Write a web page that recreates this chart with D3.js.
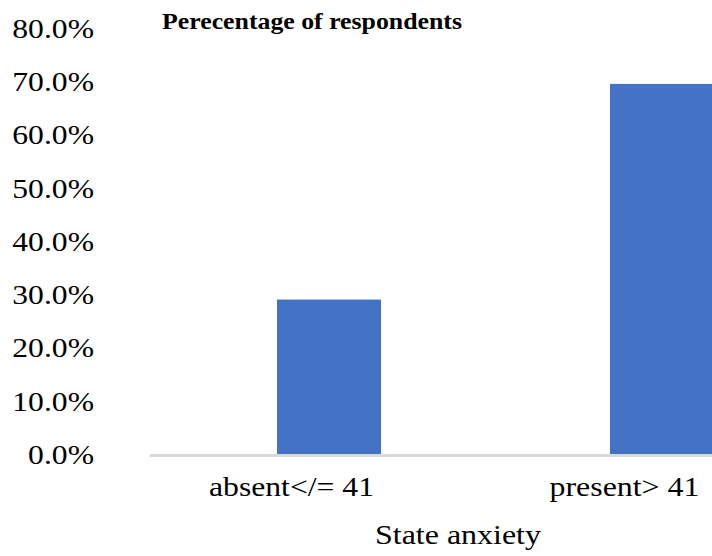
<!DOCTYPE html>
<meta charset="utf-8">
<style>
  body { margin: 0; background: #fff; }
  text { font-family: "Liberation Serif", "Times New Roman", serif; fill: #000; }
  text.title { font-weight: bold; font-size: 24px; }
  text.tick { font-size: 28px; text-anchor: end; }
  text.cat { font-size: 27px; text-anchor: middle; }
  text.axis-title { font-size: 27px; text-anchor: middle; }
</style>
<script src="https://d3js.org/d3.v7.min.js"></script>
<div id="chart"></div>
<script>
// data
var categories = ["absent</= 41", "present> 41"];
var values = [0.29, 0.695];
var yTicks = [0, 0.1, 0.2, 0.3, 0.4, 0.5, 0.6, 0.7, 0.8];

var W = 712, H = 556;

var svg = d3.select("#chart").append("svg")
    .attr("width", W)
    .attr("height", H);

var y = d3.scaleLinear()
    .domain([0, 0.8])
    .range([454, 28]);

// bands are centred on the category labels, bars sit a bit right of that
var x = d3.scaleBand()
    .domain(categories)
    .range([125, 791]);
var barW = 104, barShift = 37.5;

// text in the picture is drawn a little wide
function wideText(px, py, cls, str, sx) {
  return svg.append("g")
      .attr("transform", "translate(" + px + "," + py + ") scale(" + sx + ",1)")
    .append("text")
      .attr("class", cls)
      .text(str);
}

// y tick labels (no gridlines, no axis line)
yTicks.forEach(function(t) {
  wideText(94, y(t), "tick", d3.format(".1%")(t), 1.13)
    .attr("dy", "0.35em");
});

// bars
svg.selectAll("rect.bar")
  .data(values)
  .enter()
  .append("rect")
    .attr("class", "bar")
    .attr("x", function(d, i) { return x(categories[i]) + x.bandwidth() / 2 + barShift - barW / 2; })
    .attr("y", function(d) { return y(d); })
    .attr("width", barW)
    .attr("height", function(d) { return y(0) - y(d); })
    .style("fill", "#4472c4");

// baseline
svg.append("line")
    .attr("x1", 150)
    .attr("x2", W)
    .attr("y1", y(0) + 1.5)
    .attr("y2", y(0) + 1.5)
    .attr("stroke", "#d9d9d9")
    .attr("stroke-width", 3);

// category labels
var catWidths = [165, 150];
categories.forEach(function(c, i) {
  svg.append("text")
      .attr("class", "cat")
      .attr("x", x(c) + x.bandwidth() / 2)
      .attr("y", 496)
      .attr("textLength", catWidths[i])
      .attr("lengthAdjust", "spacingAndGlyphs")
      .text(c);
});

svg.append("text")
    .attr("class", "axis-title")
    .attr("x", 458)
    .attr("y", 544)
    .attr("textLength", 166)
    .attr("lengthAdjust", "spacingAndGlyphs")
    .text("State anxiety");

// title
svg.append("text")
    .attr("class", "title")
    .attr("x", 162)
    .attr("y", 29)
    .attr("textLength", 300)
    .attr("lengthAdjust", "spacingAndGlyphs")
    .text("Perecentage of respondents");
</script>
